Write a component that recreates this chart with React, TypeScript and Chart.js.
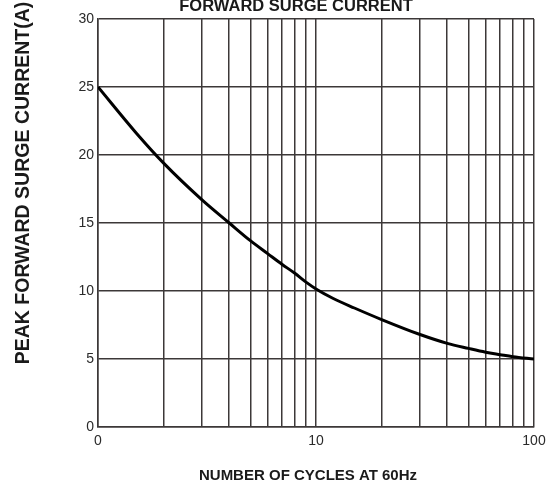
import React, { useEffect, useRef } from "react";
import { Chart, registerables } from "chart.js";

Chart.register(...registerables);

// ---- data ----
const cycles = [1, 1.5, 2, 3, 4, 5, 6, 7, 8, 9, 10, 12, 15, 20, 30, 40, 50, 60, 70, 80, 100];
const surgeCurrent = [25, 21.6, 19.4, 16.7, 15.0, 13.7, 12.75, 11.95, 11.3, 10.65, 10.15, 9.45, 8.75, 7.9, 6.8, 6.15, 5.78, 5.5, 5.32, 5.17, 5.0];
const xGridValues = [1, 2, 3, 4, 5, 6, 7, 8, 9, 10, 20, 30, 40, 50, 60, 70, 80, 90, 100];
const xTickLabels: Record<number, string> = { 1: "0", 10: "10", 100: "100" };
const yTickValues = [0, 5, 10, 15, 20, 25, 30];
const chartTitle = "FORWARD SURGE CURRENT";
const xAxisTitle = "NUMBER OF CYCLES AT 60Hz";
const yAxisTitle = "PEAK FORWARD SURGE CURRENT(A)";

const FONT = '"Liberation Sans", Arial, sans-serif';
const GRID = "#3c3838";

const titlesPlugin = {
  id: "titlesPlugin",
  afterDraw(chart: any) {
    const { ctx, chartArea } = chart;
    const cx = (chartArea.left + chartArea.right) / 2;
    ctx.save();
    ctx.fillStyle = "#1a1a1a";
    ctx.textAlign = "center";
    ctx.textBaseline = "alphabetic";
    ctx.font = `bold 16.5px ${FONT}`;
    ctx.fillText(chartTitle, cx - 20, 11);
    ctx.font = `bold 15px ${FONT}`;
    ctx.fillText(xAxisTitle, cx - 8, 480);
    ctx.translate(28.5, 183);
    ctx.rotate(-Math.PI / 2);
    ctx.font = `bold 19.5px ${FONT}`;
    ctx.fillText(yAxisTitle, 0, 0);
    ctx.restore();
  },
};

export default function App() {
  const ref = useRef<HTMLCanvasElement | null>(null);

  useEffect(() => {
    document.body.style.margin = "0";
    const canvas = ref.current;
    if (!canvas) return;
    const chart = new Chart(canvas, {
      type: "line",
      data: {
        datasets: [
          {
            data: cycles.map((c, i) => ({ x: c, y: surgeCurrent[i] })),
            borderColor: "#000",
            borderWidth: 3,
            pointRadius: 0,
            fill: false,
            cubicInterpolationMode: "monotone",
          },
        ],
      },
      options: {
        animation: false,
        responsive: false,
        devicePixelRatio: 1,
        layout: { padding: { top: 19, right: 19, left: 0, bottom: 0 } },
        plugins: {
          legend: { display: false },
          tooltip: { enabled: false },
          title: { display: false },
        },
        scales: {
          x: {
            type: "logarithmic",
            min: 1,
            max: 100,
            afterBuildTicks: (scale: any) => {
              scale.ticks = xGridValues.map((v) => ({ value: v }));
            },
            afterFit: (scale: any) => {
              scale.height = 59;
            },
            ticks: {
              autoSkip: false,
              maxRotation: 0,
              padding: 6,
              color: "#2a2a2a",
              font: { family: FONT, size: 14 },
              callback: (value: any) => xTickLabels[Number(value)] ?? "",
            },
            grid: { color: GRID, lineWidth: 1.5, drawTicks: false },
            border: { color: GRID, width: 1.5 },
          },
          y: {
            type: "linear",
            min: 0,
            max: 30,
            afterBuildTicks: (scale: any) => {
              scale.ticks = yTickValues.map((v) => ({ value: v }));
            },
            afterFit: (scale: any) => {
              scale.width = 98;
            },
            ticks: {
              padding: 4,
              color: "#2a2a2a",
              font: { family: FONT, size: 14 },
            },
            grid: { color: GRID, lineWidth: 1.5, drawTicks: false },
            border: { color: GRID, width: 1.5 },
          },
        },
      },
      plugins: [titlesPlugin],
    });
    return () => chart.destroy();
  }, []);

  return (
    <div style={{ position: "fixed", left: 0, top: 0, width: 553, height: 486, background: "#fff" }}>
      <canvas ref={ref} width={553} height={486} />
    </div>
  );
}
